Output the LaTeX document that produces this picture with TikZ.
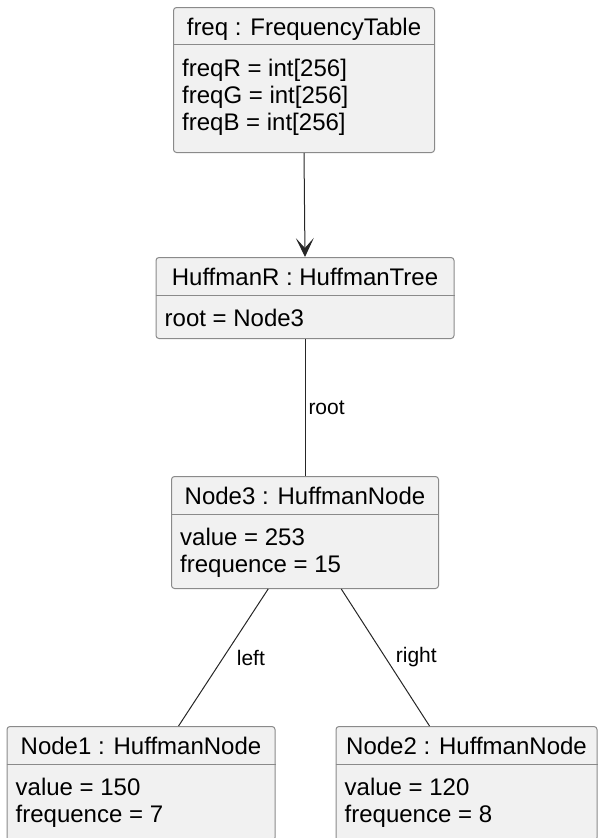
\documentclass[tikz,border=0pt]{standalone}
\usepackage{fontspec}
\setmainfont{Liberation Sans}
\usetikzlibrary{arrows.meta,positioning}

\definecolor{boxfill}{HTML}{F1F1F1}
\definecolor{boxline}{HTML}{8A8A8A}

\tikzset{
  objbox/.style={draw=boxline, fill=boxfill, rounded corners=3pt, line width=1pt,
    inner sep=0pt, anchor=north},
  objtitle/.style={anchor=base, inner sep=0pt, font=\fontsize{24}{27}\selectfont},
  objattr/.style={anchor=base west, inner sep=0pt, align=left,
    font=\fontsize{24}{27}\selectfont},
  objsep/.style={draw=boxline, line width=1pt},
  link/.style={draw=black!85, line width=1pt},
  linklabel/.style={inner sep=0pt, font=\fontsize{21}{24}\selectfont},
}

\begin{document}
\begin{tikzpicture}[x=1pt, y=-1pt]
    \useasboundingbox (0,0) rectangle (601,838);

    % freq
    \node[objbox, minimum width=261pt, minimum height=145pt] (freq) at (304,7) {};
    \node[objtitle] (freqT) at ([yshift=-28.5pt]freq.north) {freq : FrequencyTable};
    \draw[objsep] ([yshift=-37pt]freq.north west) -- ([yshift=-37pt]freq.north east);
    % ancre sur la derniere ligne
    \node[objattr] (freqA) at ([xshift=9pt, yshift=-123pt]freq.north west)
        {freqR = int[256]\\freqG = int[256]\\freqB = int[256]};

    % HuffmanR
    \node[objbox, minimum width=298pt, minimum height=81pt] (huffR) at (305,257) {};
    \node[objtitle] (huffRT) at ([yshift=-28.5pt]huffR.north) {HuffmanR : HuffmanTree};
    \draw[objsep] ([yshift=-38pt]huffR.north west) -- ([yshift=-38pt]huffR.north east);
    \node[objattr] (huffRA) at ([xshift=9pt, yshift=-69pt]huffR.north west)
        {root = Node3};

    % Node3
    \node[objbox, minimum width=267pt, minimum height=112pt] (node3) at (305,476) {};
    \node[objtitle] (node3T) at ([yshift=-28.5pt]node3.north) {Node3 : HuffmanNode};
    \draw[objsep] ([yshift=-38pt]node3.north west) -- ([yshift=-38pt]node3.north east);
    \node[objattr] (node3A) at ([xshift=9pt, yshift=-96pt]node3.north west)
        {value = 253\\frequence = 15};

    % Node1
    \node[objbox, minimum width=268pt, minimum height=114pt] (node1) at (141,726) {};
    \node[objtitle] (node1T) at ([yshift=-28.5pt]node1.north) {Node1 : HuffmanNode};
    \draw[objsep] ([yshift=-38pt]node1.north west) -- ([yshift=-38pt]node1.north east);
    \node[objattr] (node1A) at ([xshift=9pt, yshift=-96pt]node1.north west)
        {value = 150\\frequence = 7};

    % Node2
    \node[objbox, minimum width=261pt, minimum height=114pt] (node2) at (466.5,726) {};
    \node[objtitle] (node2T) at ([yshift=-28.5pt]node2.north) {Node2 : HuffmanNode};
    \draw[objsep] ([yshift=-38pt]node2.north west) -- ([yshift=-38pt]node2.north east);
    \node[objattr] (node2A) at ([xshift=9pt, yshift=-96pt]node2.north west)
        {value = 120\\frequence = 8};

    % liens
    \draw[link, -{Stealth[length=19pt, width=18pt, inset=10pt]}] (freq.south) -- (huffR.north);
    \draw[link] (huffR) -- node[linklabel, right=3pt] {root} (node3);
    \draw[link] (node3) -- node[linklabel, right=13pt] {left} (node1);
    \draw[link] (node3) -- node[linklabel, right=10pt] {right} (node2);

\end{tikzpicture}
\end{document}
